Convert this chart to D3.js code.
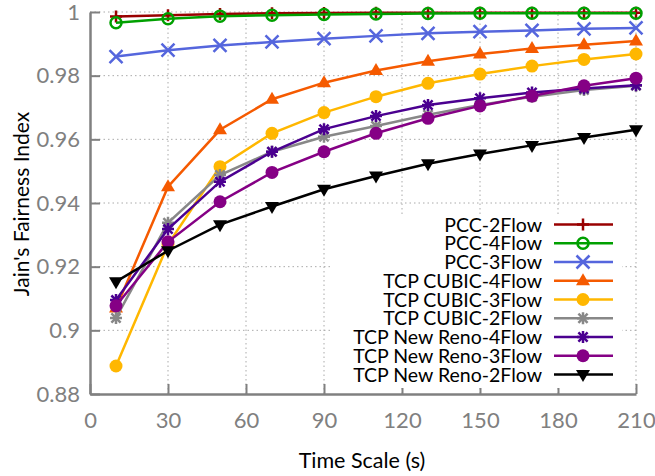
<!DOCTYPE html>
<html>
<head>
<meta charset="utf-8">
<script src="https://cdn.jsdelivr.net/npm/d3@7"></script>
<style>
  body { margin: 0; background: #fff; }
  text { font-family: Lato, "Open Sans", sans-serif; }
</style>
</head>
<body>
<svg width="655" height="476"></svg>
<script>
// time scale in seconds
let times = [10, 30, 50, 70, 90, 110, 130, 150, 170, 190, 210];

let pcc2 = [0.9986, 0.9990, 0.9994, 0.9996, 0.9997, 0.9998, 0.9998, 0.9998, 0.9998, 0.9998, 0.9998];
let pcc4 = [0.9966, 0.9979, 0.9987, 0.9990, 0.9992, 0.9994, 0.9995, 0.9996, 0.9996, 0.9996, 0.9996];
let pcc3 = [0.9860, 0.9880, 0.9895, 0.9906, 0.9916, 0.9925, 0.9933, 0.9938, 0.9942, 0.9947, 0.9950];
let cubic4 = [0.9070, 0.9451, 0.9630, 0.9726, 0.9778, 0.9816, 0.9845, 0.9868, 0.9885, 0.9897, 0.9909];
let cubic3 = [0.8888, 0.9270, 0.9514, 0.9619, 0.9684, 0.9734, 0.9776, 0.9805, 0.9830, 0.9851, 0.9868];
let cubic2 = [0.9039, 0.9338, 0.9488, 0.9561, 0.9608, 0.9642, 0.9677, 0.9708, 0.9734, 0.9755, 0.9768];
let reno4 = [0.9095, 0.9318, 0.9467, 0.9561, 0.9632, 0.9673, 0.9708, 0.9729, 0.9747, 0.9760, 0.9770];
let reno3 = [0.9077, 0.9278, 0.9404, 0.9496, 0.9561, 0.9619, 0.9666, 0.9705, 0.9736, 0.9768, 0.9792];
let reno2 = [0.9153, 0.9250, 0.9332, 0.9389, 0.9443, 0.9485, 0.9523, 0.9554, 0.9581, 0.9606, 0.9630];

let xTicks = [0, 30, 60, 90, 120, 150, 180, 210];
let yTicks = [0.88, 0.9, 0.92, 0.94, 0.96, 0.98, 1];
let yTickLabels = ["0.88", "0.9", "0.92", "0.94", "0.96", "0.98", "1"];

let series = [
    {name: "PCC-2Flow", values: pcc2, color: "#990000", marker: "plus"},
    {name: "PCC-4Flow", values: pcc4, color: "#00a000", marker: "ocircle"},
    {name: "PCC-3Flow", values: pcc3, color: "#5566dd", marker: "cross"},
    {name: "TCP CUBIC-4Flow", values: cubic4, color: "#f55a00", marker: "triup"},
    {name: "TCP CUBIC-3Flow", values: cubic3, color: "#ffb700", marker: "fcircle"},
    {name: "TCP CUBIC-2Flow", values: cubic2, color: "#888888", marker: "star"},
    {name: "TCP New Reno-4Flow", values: reno4, color: "#4b0090", marker: "star"},
    {name: "TCP New Reno-3Flow", values: reno3, color: "#850085", marker: "fcircle"},
    {name: "TCP New Reno-2Flow", values: reno2, color: "#000000", marker: "tridown"}
];

let svg = d3.select("svg");
let mLeft = 90, mRight = 636, mTop = 12, mBottom = 394;

let x = d3.scaleLinear().domain([0, 210]).range([mLeft, mRight]);
let y = d3.scaleLinear().domain([0.88, 1]).range([mBottom, mTop]);

// grid
let grid = svg.append("g");
grid.selectAll(".gx").data(xTicks.slice(1)).join("line")
    .attr("x1", d => x(d)).attr("x2", d => x(d))
    .attr("y1", mBottom).attr("y2", mTop)
    .attr("stroke", "#aaa").attr("stroke-width", 1).attr("stroke-dasharray", "1.5,3");
grid.selectAll(".gy").data(yTicks.slice(1)).join("line")
    .attr("x1", mLeft).attr("x2", mRight)
    .attr("y1", d => y(d)).attr("y2", d => y(d))
    .attr("stroke", "#aaa").attr("stroke-width", 1).attr("stroke-dasharray", "1.5,3");

// axes
let xAxis = d3.axisBottom(x).tickValues(xTicks).tickSizeInner(-10).tickSizeOuter(0);
let yAxis = d3.axisLeft(y).tickValues(yTicks).tickFormat((d, i) => yTickLabels[i])
    .tickSizeInner(-10).tickSizeOuter(0);

let gx = svg.append("g").attr("transform", `translate(0,${mBottom})`).call(xAxis);
let gy = svg.append("g").attr("transform", `translate(${mLeft},0)`).call(yAxis);
[gx, gy].forEach(g => {
    g.select(".domain").attr("stroke", "#808080").attr("stroke-width", 2.5);
    g.selectAll(".tick line").attr("stroke", "#808080").attr("stroke-width", 2);
    g.selectAll(".tick text").attr("fill", "#808080").style("font-size", "22px")
        .style("font-family", "Lato, sans-serif");
});
gx.selectAll(".tick text").attr("y", 18);
gy.selectAll(".tick text").attr("x", -10);

// titles
svg.append("text").attr("x", 362).attr("y", 468).attr("text-anchor", "middle")
    .style("font-size", "21.5px").text("Time Scale (s)");
svg.append("text").attr("transform", "translate(29,204) rotate(-90)")
    .attr("text-anchor", "middle").style("font-size", "21px").text("Jain's Fairness Index");

function drawMarker(g, type, color, cx, cy) {
    let s = 6;
    if (type === "plus" || type === "star") {
        g.append("path").attr("d", `M${cx - s},${cy}H${cx + s}M${cx},${cy - s}V${cy + s}`)
            .attr("stroke", color).attr("stroke-width", 2.5).attr("fill", "none");
    }
    if (type === "cross" || type === "star") {
        let k = type === "star" ? 4.6 : 6.5;
        g.append("path").attr("d", `M${cx - k},${cy - k}L${cx + k},${cy + k}M${cx - k},${cy + k}L${cx + k},${cy - k}`)
            .attr("stroke", color).attr("stroke-width", 2.5).attr("fill", "none");
    }
    if (type === "ocircle") {
        g.append("circle").attr("cx", cx).attr("cy", cy).attr("r", 5.5)
            .attr("stroke", color).attr("stroke-width", 2.5).attr("fill", "none");
    }
    if (type === "fcircle") {
        g.append("circle").attr("cx", cx).attr("cy", cy).attr("r", 6.5).attr("fill", color);
    }
    if (type === "triup") {
        g.append("path").attr("d", `M${cx},${cy - 7.5}L${cx + 7},${cy + 4.5}L${cx - 7},${cy + 4.5}Z`).attr("fill", color);
    }
    if (type === "tridown") {
        g.append("path").attr("d", `M${cx},${cy + 7.5}L${cx + 7},${cy - 4.5}L${cx - 7},${cy - 4.5}Z`).attr("fill", color);
    }
}

let line = d3.line().x((d, i) => x(times[i])).y(d => y(d));

let plot = svg.append("g");
series.forEach(s => {
    let g = plot.append("g");
    g.append("path").datum(s.values).attr("d", line)
        .attr("fill", "none").attr("stroke", s.color).attr("stroke-width", 2.5);
    s.values.forEach((v, i) => drawMarker(g, s.marker, s.color, x(times[i]), y(v)));
});

// legend (opaque box)
let legend = svg.append("g");
legend.append("rect").attr("x", 332).attr("y", 214).attr("width", 290).attr("height", 174).attr("fill", "#fff");
series.forEach((s, i) => {
    let ly = 224.5 + i * 18.75;
    legend.append("text").attr("x", 542).attr("y", ly).attr("dy", "0.36em")
        .attr("text-anchor", "end").style("font-size", "19.5px").attr("fill", "#000").text(s.name);
    legend.append("line").attr("x1", 554).attr("x2", 613).attr("y1", ly).attr("y2", ly)
        .attr("stroke", s.color).attr("stroke-width", 2.5);
    drawMarker(legend, s.marker, s.color, 583, ly);
});
</script>
</body>
</html>
